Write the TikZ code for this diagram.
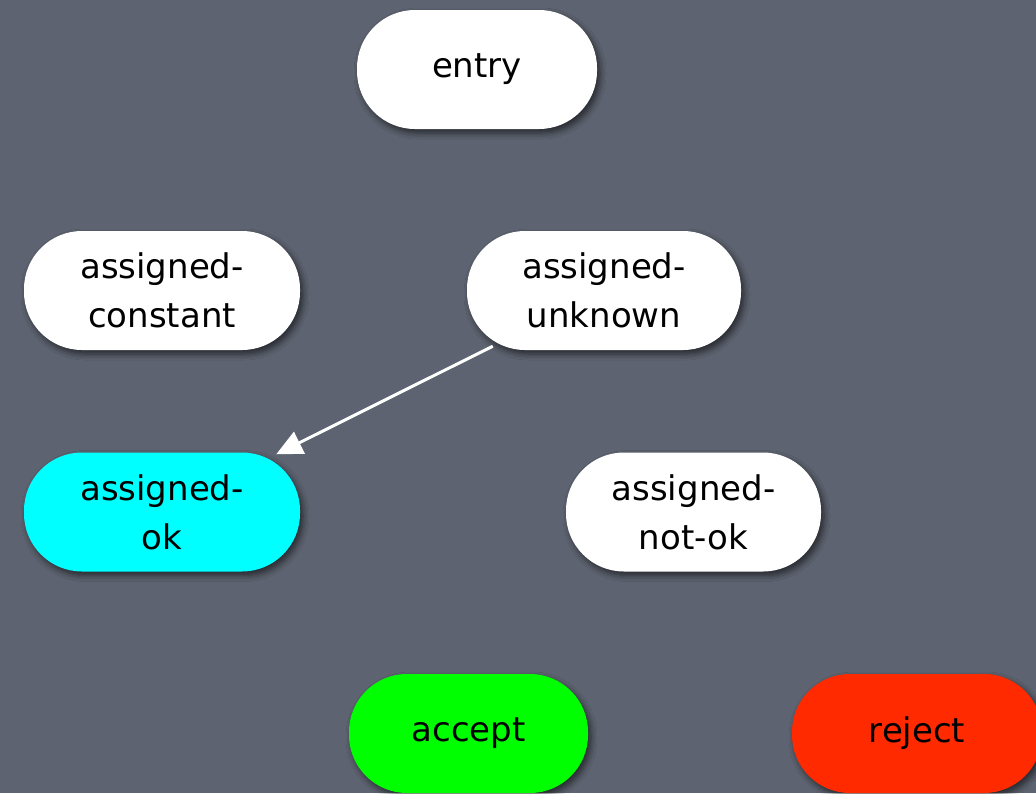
\documentclass[tikz,border=0pt]{standalone}
\usepackage{fontspec}
\setmainfont{DejaVu Sans}
\usetikzlibrary{arrows.meta,shadows.blur}
\definecolor{bg}{HTML}{5D6370}
\definecolor{okcyan}{HTML}{00FFFF}
\definecolor{accgreen}{HTML}{00FF00}
\definecolor{rejred}{HTML}{FF2A00}
\tikzset{
  state/.style={rounded corners=58pt, minimum height=119pt, align=center,
    font=\fontsize{34}{49}\selectfont, text=black, inner sep=0pt,
    blur shadow={shadow xshift=3pt, shadow yshift=-4pt, shadow blur steps=6, shadow blur radius=6pt, shadow opacity=60}},
  conn/.style={draw=white, line width=3pt, -{Triangle[length=26pt,width=24pt]}}
}
\begin{document}
\begin{tikzpicture}[x=1pt,y=-1pt]
\useasboundingbox (0,0) rectangle (1036,793);
\fill[bg] (0,0) rectangle (1036,793);
\clip (0,0) rectangle (1036,793);
\node[state, fill=white, minimum width=240pt] (entry) at (477,69.5) {entry};
\node[state, fill=white, minimum width=276pt] (aconst) at (162,290.5) {assigned-\\constant};
\node[state, fill=white, minimum width=274pt] (aunk) at (604,290.5) {assigned-\\unknown};
\node[state, fill=okcyan, minimum width=276pt] (aok) at (162,512) {assigned-\\ok};
\node[state, fill=white, minimum width=255pt] (anok) at (693.5,512) {assigned-\\not-ok};
\node[state, fill=accgreen, minimum width=239pt] (accept) at (468.5,733.5) {accept};
\node[state, fill=rejred, minimum width=250pt] (reject) at (917,733.5) {reject};
\path (aunk.south west) ++(26,-4) coordinate (s);
\path (aok.north east) ++(-24,2) coordinate (t);
\draw[conn] (s) -- (t);
\end{tikzpicture}
\end{document}
